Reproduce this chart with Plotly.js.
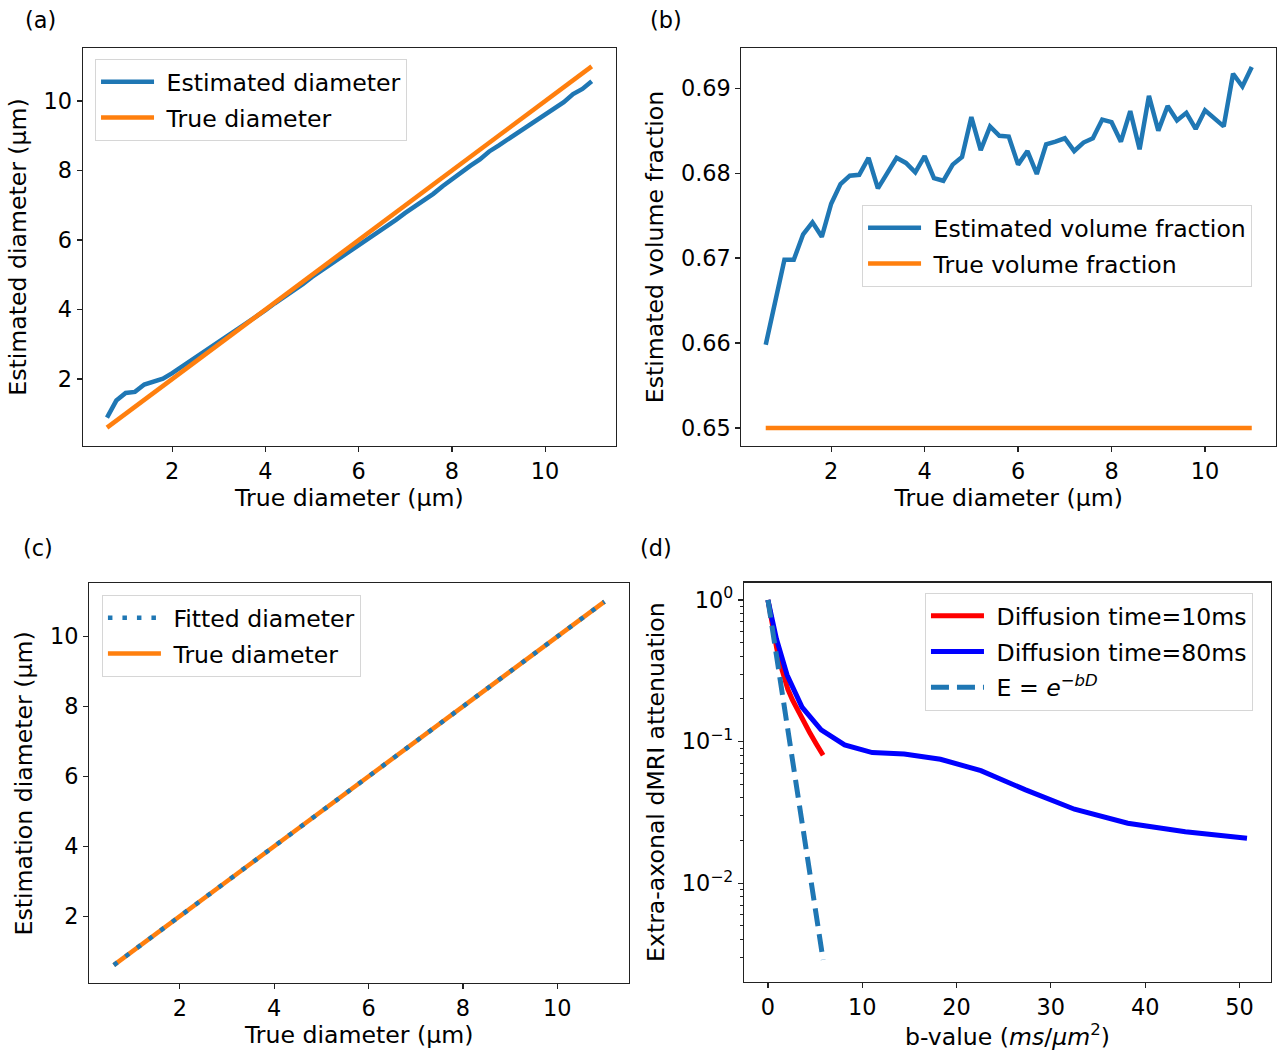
<!DOCTYPE html>
<html>
<head>
<meta charset="utf-8">
<script src="https://cdn.plot.ly/plotly-3.0.1.min.js"></script>
<style>html,body{margin:0;padding:0;background:#fff;}#chart{width:1279px;height:1054px;}</style>
</head>
<body>
<div id="chart"></div>
<script>
// ---- Data ----
// True diameter grid (μm), shared by panels (a), (b), (c)
var trueDiameter = [0.6,0.8,1.0,1.2,1.4,1.6,1.8,2.0,2.2,2.4,2.6,2.8,3.0,3.2,3.4,3.6,3.8,4.0,4.2,4.4,4.6,4.8,5.0,5.2,5.4,5.6,5.8,6.0,6.2,6.4,6.6,6.8,7.0,7.2,7.4,7.6,7.8,8.0,8.2,8.4,8.6,8.8,9.0,9.2,9.4,9.6,9.8,10.0,10.2,10.4,10.6,10.8,11.0];
// (a) estimated diameter
var estimatedDiameter = [0.89,1.38,1.60,1.63,1.84,1.93,2.01,2.17,2.35,2.53,2.72,2.90,3.06,3.24,3.45,3.63,3.81,3.98,4.18,4.36,4.55,4.73,4.94,5.12,5.30,5.47,5.66,5.84,6.02,6.21,6.39,6.58,6.78,6.96,7.15,7.33,7.55,7.76,7.96,8.14,8.32,8.55,8.72,8.90,9.08,9.27,9.44,9.64,9.80,9.97,10.20,10.35,10.57];
// (b) estimated volume fraction
var estimatedVF = [0.6598,0.6651,0.6698,0.6698,0.6728,0.6742,0.6725,0.6764,0.6787,0.6797,0.6798,0.6818,0.6782,0.6800,0.6818,0.6812,0.6801,0.6820,0.6794,0.6791,0.6810,0.6819,0.6866,0.6827,0.6855,0.6844,0.6843,0.6810,0.6826,0.6799,0.6834,0.6837,0.6841,0.6826,0.6836,0.6841,0.6863,0.6860,0.6837,0.6873,0.6828,0.6891,0.6850,0.6879,0.6862,0.6871,0.6852,0.6874,0.6865,0.6855,0.6917,0.6902,0.6925];
var trueVF = [0.65,0.65,0.65,0.65,0.65,0.65,0.65,0.65,0.65,0.65,0.65,0.65,0.65,0.65,0.65,0.65,0.65,0.65,0.65,0.65,0.65,0.65,0.65,0.65,0.65,0.65,0.65,0.65,0.65,0.65,0.65,0.65,0.65,0.65,0.65,0.65,0.65,0.65,0.65,0.65,0.65,0.65,0.65,0.65,0.65,0.65,0.65,0.65,0.65,0.65,0.65,0.65,0.65];
// (c) fitted diameter
var fittedDiameter = [0.6,0.8,1.0,1.2,1.4,1.6,1.8,2.0,2.2,2.4,2.6,2.8,3.0,3.2,3.4,3.6,3.8,4.0,4.2,4.4,4.6,4.8,5.0,5.2,5.4,5.6,5.8,6.0,6.2,6.4,6.6,6.8,7.0,7.2,7.4,7.6,7.8,8.0,8.2,8.4,8.6,8.8,9.0,9.2,9.4,9.6,9.8,10.0,10.2,10.4,10.6,10.8,11.0];
// (d) b-values and attenuation
var bShort = [0,0.026,0.104,0.234,0.416,0.65,0.936,1.274,1.664,2.106,2.6,3.146,3.744,4.394,5.096,5.85];
var E10ms = [1.0,0.975,0.905,0.80,0.68,0.565,0.455,0.36,0.285,0.235,0.197,0.166,0.140,0.117,0.097,0.080];
var bLong = [0,0.226,0.903,2.03,3.61,5.64,8.13,11.06,14.45,18.29,22.58,27.32,32.51,38.16,44.26,50.8];
var E80ms = [1.0,0.83,0.53,0.295,0.175,0.121,0.0947,0.0836,0.0818,0.0750,0.0624,0.0456,0.0333,0.0265,0.0231,0.0208];
var Eexp = [1.0,0.974,0.901,0.791,0.660,0.522,0.392,0.280,0.189,0.122,0.0743,0.0430,0.0237,0.0124,0.00612,0.00288];

// ---- Styling ----
var FONT = 'DejaVu Sans, Verdana, sans-serif';
var TICK = 22.4, TITLE = 23.6;
var BLUE = '#1f77b4', ORANGE = '#ff7f0e';
var SP = '\u00a0';

function ax(extra) {
  var base = {
    showline: true, mirror: true, linecolor: '#222', linewidth: 1.2,
    ticks: 'outside', ticklen: 5, tickwidth: 1.2, tickcolor: '#222',
    showgrid: false, zeroline: false, fixedrange: true,
    tickfont: {family: FONT, size: TICK, color: '#000'}
  };
  for (var k in extra) base[k] = extra[k];
  return base;
}
function ttl(text, standoff) {
  return {text: text, standoff: standoff, font: {family: FONT, size: TITLE, color: '#000'}};
}
function leg(x, y) {
  return {x: x, y: y, xanchor: 'left', yanchor: 'top', bgcolor: 'rgba(255,255,255,0.85)',
          bordercolor: '#d6d6d6', borderwidth: 1, font: {family: FONT, size: TITLE, color: '#000'},
          itemwidth: 53, tracegroupgap: 2};
}

var traces = [
  {x: trueDiameter, y: estimatedDiameter, name: SP + 'Estimated diameter', mode: 'lines', line: {color: BLUE, width: 4.5}, xaxis: 'x', yaxis: 'y', legend: 'legend', legendgroup: 'a1'},
  {x: trueDiameter, y: trueDiameter, name: SP + 'True diameter', mode: 'lines', line: {color: ORANGE, width: 4.5}, xaxis: 'x', yaxis: 'y', legend: 'legend', legendgroup: 'a2'},
  {x: trueDiameter, y: estimatedVF, name: SP + 'Estimated volume fraction', mode: 'lines', line: {color: BLUE, width: 4.5}, xaxis: 'x2', yaxis: 'y2', legend: 'legend2', legendgroup: 'b1'},
  {x: trueDiameter, y: trueVF, name: SP + 'True volume fraction', mode: 'lines', line: {color: ORANGE, width: 4.5}, xaxis: 'x2', yaxis: 'y2', legend: 'legend2', legendgroup: 'b2'},
  {x: trueDiameter, y: trueDiameter, name: SP + 'True diameter', mode: 'lines', line: {color: ORANGE, width: 4.5}, xaxis: 'x3', yaxis: 'y3', legend: 'legend3', legendrank: 2, legendgroup: 'c2'},
  {x: trueDiameter, y: fittedDiameter, name: SP + 'Fitted diameter', mode: 'lines', line: {color: BLUE, width: 4.5, dash: '4.5px,10px'}, xaxis: 'x3', yaxis: 'y3', legend: 'legend3', legendrank: 1, legendgroup: 'c1'},
  {x: bShort, y: E10ms, name: SP + 'Diffusion time=10ms', mode: 'lines', line: {color: '#ff0000', width: 5}, xaxis: 'x4', yaxis: 'y4', legend: 'legend4', legendgroup: 'd1'},
  {x: bLong, y: E80ms, name: SP + 'Diffusion time=80ms', mode: 'lines', line: {color: '#0000ff', width: 5}, xaxis: 'x4', yaxis: 'y4', legend: 'legend4', legendgroup: 'd2'},
  {x: bShort, y: Eexp, name: SP + 'E = <i>e</i><sup>−<i>bD</i></sup>', mode: 'lines', line: {color: BLUE, width: 5, dash: '18px,8px'}, xaxis: 'x4', yaxis: 'y4', legend: 'legend4', legendgroup: 'd3'}
];

var layout = {
  width: 1279, height: 1054, autosize: false,
  margin: {l: 0, r: 0, t: 0, b: 0},
  paper_bgcolor: '#fff', plot_bgcolor: '#fff',
  font: {family: FONT, color: '#000'},
  showlegend: true,
  xaxis: ax({domain: [0.0647, 0.4816], range: [0.08, 11.52], dtick: 2, tick0: 0, anchor: 'y', title: ttl('True diameter (μm)', 6)}),
  yaxis: ax({domain: [0.5771, 0.9542], range: [0.08, 11.52], dtick: 2, tick0: 0, anchor: 'x', title: ttl('Estimated diameter (μm)', 10)}),
  xaxis2: ax({domain: [0.5797, 0.9977], range: [0.08, 11.52], dtick: 2, tick0: 0, anchor: 'y2', title: ttl('True diameter (μm)', 6)}),
  yaxis2: ax({domain: [0.5771, 0.9542], range: [0.6479, 0.6947], dtick: 0.01, tick0: 0.65, tickformat: '.2f', anchor: 'x2', title: ttl('Estimated volume fraction', 10)}),
  xaxis3: ax({domain: [0.0698, 0.4918], range: [0.08, 11.52], dtick: 2, tick0: 0, anchor: 'y3', title: ttl('True diameter (μm)', 6)}),
  yaxis3: ax({domain: [0.0671, 0.4464], range: [0.08, 11.52], dtick: 2, tick0: 0, anchor: 'x3', title: ttl('Estimation diameter (μm)', 10)}),
  xaxis4: ax({domain: [0.5817, 0.9937], range: [-2.54, 53.34], dtick: 10, tick0: 0, anchor: 'y4', title: ttl('b-value (<i>ms</i>/<i>μm</i><sup>2</sup>)', 6)}),
  yaxis4: ax({domain: [0.0686, 0.4472], type: 'log', range: [-2.695, 0.122], anchor: 'x4',
    tickmode: 'array', tickvals: [1, 0.1, 0.01], ticktext: ['10<sup>0</sup>', '10<sup>−1</sup>', '10<sup>−2</sup>'],
    minor: {ticks: 'outside', ticklen: 3, tickwidth: 1, tickcolor: '#222', dtick: 'D1', showgrid: false},
    title: ttl('Extra-axonal dMRI attenuation', 10)}),
  legend: leg(0.0743, 0.9441),
  legend2: leg(0.674, 0.8056),
  legend3: leg(0.0797, 0.4355),
  legend4: leg(0.7232, 0.4374),
  annotations: [
    {text: '(a)', x: 40 / 1279, y: 1 - 20 / 1054, xref: 'paper', yref: 'paper', showarrow: false, xanchor: 'center', yanchor: 'middle', font: {family: FONT, size: 22.4, color: '#000'}},
    {text: '(b)', x: 666 / 1279, y: 1 - 20 / 1054, xref: 'paper', yref: 'paper', showarrow: false, xanchor: 'center', yanchor: 'middle', font: {family: FONT, size: 22.4, color: '#000'}},
    {text: '(c)', x: 38 / 1279, y: 1 - 548 / 1054, xref: 'paper', yref: 'paper', showarrow: false, xanchor: 'center', yanchor: 'middle', font: {family: FONT, size: 22.4, color: '#000'}},
    {text: '(d)', x: 656 / 1279, y: 1 - 548 / 1054, xref: 'paper', yref: 'paper', showarrow: false, xanchor: 'center', yanchor: 'middle', font: {family: FONT, size: 22.4, color: '#000'}}
  ]
};

Plotly.newPlot('chart', traces, layout, {displayModeBar: false, staticPlot: true});
</script>
</body>
</html>
